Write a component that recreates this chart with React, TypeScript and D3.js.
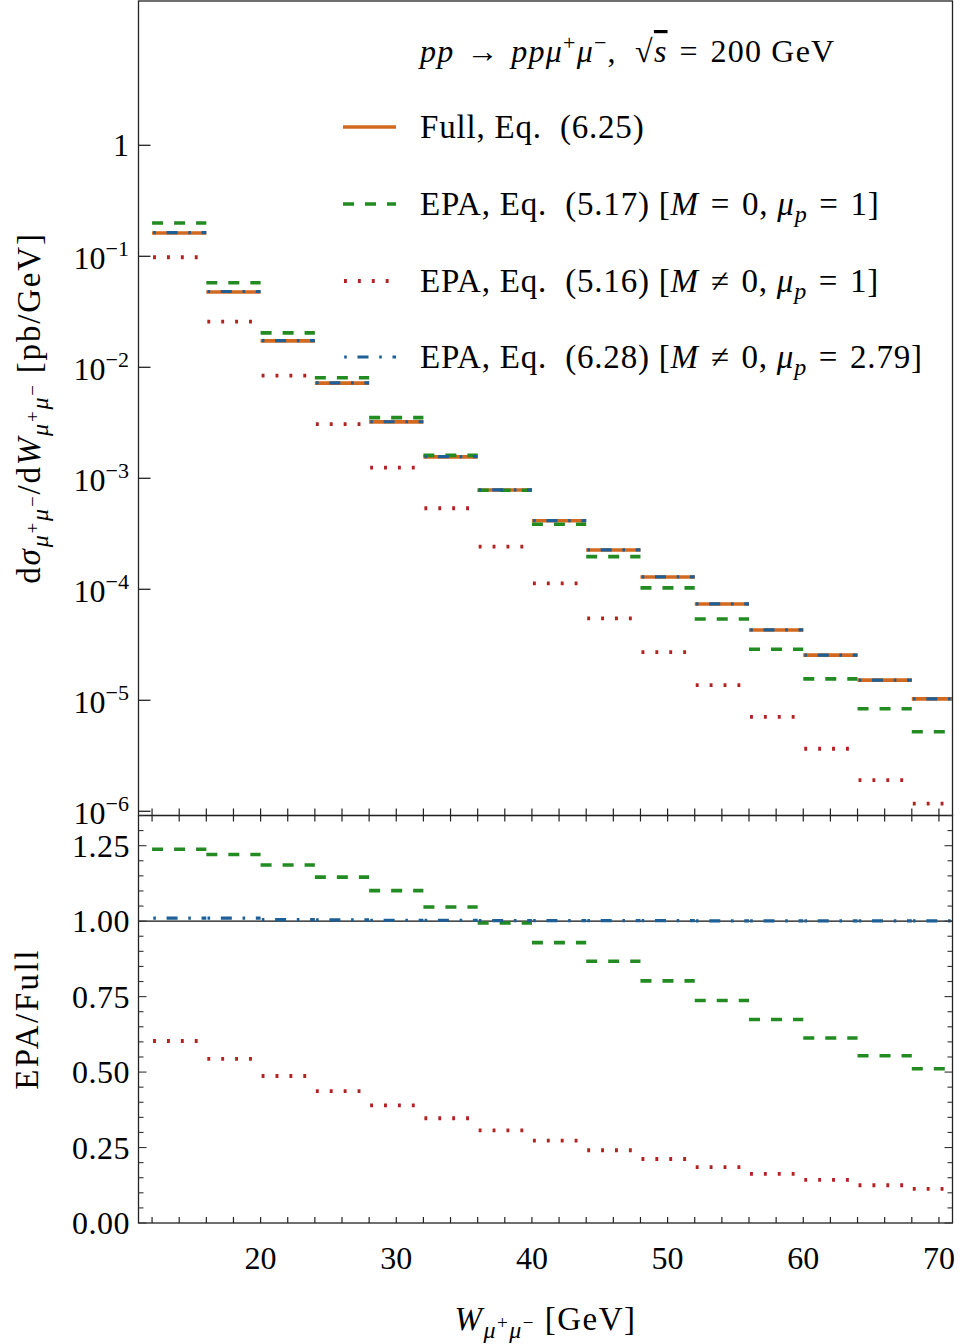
import React from "react";
import * as d3 from "d3";

// bin edges in GeV (4 GeV bins, last one cut by the axis at 71)
const binEdges = [12, 16, 20, 24, 28, 32, 36, 40, 44, 48, 52, 56, 60, 64, 68, 72];

// d sigma / dW [pb/GeV]
const full = [0.162, 0.0477, 0.0173, 0.00720, 0.00322, 0.00156, 7.85e-4, 4.14e-4, 2.26e-4, 1.29e-4, 7.38e-5, 4.3e-5, 2.55e-5, 1.52e-5, 1.03e-5];
const epaM0 = [0.1995, 0.0578, 0.0204, 0.00806, 0.00352, 0.00161, 7.8e-4, 3.86e-4, 1.97e-4, 1.03e-4, 5.4e-5, 2.88e-5, 1.56e-5, 8.4e-6, 5.2e-6];
const epaM = [0.098, 0.0258, 0.0084, 0.00308, 0.00125, 5.37e-4, 2.42e-4, 1.13e-4, 5.48e-5, 2.72e-5, 1.37e-5, 7.08e-6, 3.66e-6, 1.91e-6, 1.17e-6];
const epaMu = [0.1636, 0.0482, 0.0174, 0.00723, 0.00323, 0.001565, 7.87e-4, 4.15e-4, 2.265e-4, 1.293e-4, 7.39e-5, 4.3e-5, 2.55e-5, 1.52e-5, 1.03e-5];

// EPA / Full
const ratioM0 = [1.238, 1.221, 1.186, 1.146, 1.101, 1.047, 0.994, 0.929, 0.867, 0.802, 0.737, 0.674, 0.613, 0.554, 0.511];
const ratioM = [0.603, 0.544, 0.487, 0.437, 0.39, 0.347, 0.307, 0.273, 0.241, 0.212, 0.185, 0.163, 0.143, 0.125, 0.113];
const ratioMu = [1.01, 1.01, 1.005, 1.004, 1.003, 1.003, 1.002, 1.002, 1.002, 1.002, 1.001, 1.001, 1.001, 1.001, 1.001];

const xTicks = [20, 30, 40, 50, 60, 70];
const logTicks = [0, -1, -2, -3, -4, -5, -6];
const ratioTicks = [0, 0.25, 0.5, 0.75, 1.0, 1.25];

const FONT = "'Liberation Serif', 'DejaVu Serif', serif";
const C_FULL = "#d2691e";
const C_M0 = "#228b22";
const C_M = "#b22222";
const C_MU = "#1d5f97";
const SP = "\u2004"; // a bit wider than a normal space, like TeX math spacing

const styles = {
  full: { stroke: C_FULL, width: 3.6, dash: "none", offset: 0 },
  m0: { stroke: C_M0, width: 3.6, dash: "11 11", offset: 0 },
  m: { stroke: C_M, width: 3.8, dash: "2.9 11", offset: -1 },
  mu: { stroke: C_MU, width: 3.2, dash: "11 10.7 2.6 10.7", offset: 20.5 },
};

type Piece = { t: string; off?: number; size?: number; it?: boolean; deco?: string };

// text with sub/superscripts; off is the shift from the baseline (positive = down)
const Rich = ({ pieces, size, ...rest }: { pieces: Piece[]; size: number; [k: string]: any }) => {
  let prev = 0;
  return (
    <text fontFamily={FONT} fontSize={size} xmlSpace="preserve" {...rest}>
      {pieces.map((p, i) => {
        const off = p.off || 0;
        const dy = off - prev;
        prev = off;
        return (
          <tspan key={i} dy={dy} fontSize={p.size || size} fontStyle={p.it ? "italic" : "normal"} textDecoration={p.deco}>
            {p.t}
          </tspan>
        );
      })}
    </text>
  );
};

const muSub: Piece[] = [
  { t: "μ", off: 8, size: 24, it: true },
  { t: "+", off: -1, size: 19 },
  { t: "μ", off: 8, size: 24, it: true },
  { t: "−", off: -1, size: 19 },
];

export default function App() {
  const left = 138.5, right = 952.5;
  const topY0 = 1, topY1 = 815.5, botY1 = 1223;

  const x = d3.scaleLinear().domain([11, 71]).range([left, right]);
  const yTop = d3.scaleLog().domain([Math.pow(10, -6.038), Math.pow(10, 1.3)]).range([topY1, topY0]);
  const yBot = d3.scaleLinear().domain([0, 1.35]).range([botY1, topY1]);

  const minorX = d3.range(12, 71, 2);
  const minorR = d3.range(0, 1.351, 0.05);

  const steps = (vals: number[], y: any, st: any, key: string) =>
    vals.map((v, i) => (
      <line
        key={key + i}
        x1={x(binEdges[i])}
        x2={x(binEdges[i + 1])}
        y1={y(v)}
        y2={y(v)}
        stroke={st.stroke}
        strokeWidth={st.width}
        strokeDasharray={st.dash}
        strokeDashoffset={st.offset}
        strokeLinecap="butt"
      />
    ));

  const legendRows = [
    { st: styles.full, y: 127, pieces: [{ t: "Full, Eq.  (6.25)" }] },
    {
      st: styles.m0, y: 204,
      pieces: [{ t: "EPA, Eq.  (5.17) [" }, { t: "M", it: true }, { t: SP + "=" + SP + "0, " }, { t: "μ", it: true }, { t: "p", it: true, off: 7, size: 24 }, { t: SP + "=" + SP + "1]", off: 0 }],
    },
    {
      st: styles.m, y: 281,
      pieces: [{ t: "EPA, Eq.  (5.16) [" }, { t: "M", it: true }, { t: SP + "≠" + SP + "0, " }, { t: "μ", it: true }, { t: "p", it: true, off: 7, size: 24 }, { t: SP + "=" + SP + "1]", off: 0 }],
    },
    {
      st: styles.mu, y: 357,
      pieces: [{ t: "EPA, Eq.  (6.28) [" }, { t: "M", it: true }, { t: SP + "≠" + SP + "0, " }, { t: "μ", it: true }, { t: "p", it: true, off: 7, size: 24 }, { t: SP + "=" + SP + "2.79]", off: 0 }],
    },
  ];

  return (
    <svg width={964} height={1344} style={{ position: "absolute", left: 0, top: 0, background: "white" }}>
      <defs>
        <clipPath id="clipTop">
          <rect x={left} y={topY0} width={right - left} height={topY1 - topY0} />
        </clipPath>
        <clipPath id="clipBot">
          <rect x={left} y={topY1} width={right - left} height={botY1 - topY1} />
        </clipPath>
      </defs>

      {/* upper panel */}
      <g clipPath="url(#clipTop)">
        {steps(full, yTop, styles.full, "f")}
        {steps(epaM0, yTop, styles.m0, "g")}
        {steps(epaM, yTop, styles.m, "r")}
        {steps(epaMu, yTop, styles.mu, "b")}
      </g>
      <rect x={left} y={topY0} width={right - left} height={topY1 - topY0} fill="none" stroke="#222" strokeWidth={1.3} />
      {logTicks.map((e) => (
        <g key={"lt" + e}>
          <line x1={left} x2={left + 12} y1={yTop(Math.pow(10, e))} y2={yTop(Math.pow(10, e))} stroke="#222" strokeWidth={1.3} />
          {e === 0 ? (
            <text x={129} y={yTop(1) + 11} textAnchor="end" fontFamily={FONT} fontSize={32}>1</text>
          ) : (
            <text x={129} y={yTop(Math.pow(10, e)) + 13} textAnchor="end" fontFamily={FONT} fontSize={32}>
              10<tspan dy={-13} fontSize={22}>{"−" + -e}</tspan>
            </text>
          )}
        </g>
      ))}
      {minorX.map((v) => (
        <g key={"tx" + v}>
          <line x1={x(v)} x2={x(v)} y1={topY1 - 7} y2={topY1 + 6} stroke="#222" strokeWidth={1.2} />
          <line x1={x(v)} x2={x(v)} y1={botY1 - 6} y2={botY1} stroke="#222" strokeWidth={1.2} />
        </g>
      ))}

      {/* lower panel */}
      <g clipPath="url(#clipBot)">
        <line x1={left} x2={right} y1={yBot(1)} y2={yBot(1)} stroke="#111" strokeWidth={1.4} />
        {steps(ratioM0, yBot, styles.m0, "rg")}
        {steps(ratioM, yBot, styles.m, "rr")}
        {steps(ratioMu, yBot, styles.mu, "rb")}
      </g>
      <rect x={left} y={topY1} width={right - left} height={botY1 - topY1} fill="none" stroke="#222" strokeWidth={1.3} />
      {minorR.map((v, i) => {
        const major = i % 5 === 0;
        const len = major ? 8 : 5;
        return (
          <g key={"rt" + i}>
            <line x1={left} x2={left + len} y1={yBot(v)} y2={yBot(v)} stroke="#333" strokeWidth={1.1} />
            <line x1={right - len} x2={right} y1={yBot(v)} y2={yBot(v)} stroke="#333" strokeWidth={1.1} />
          </g>
        );
      })}
      {ratioTicks.map((v) => (
        <text key={"rl" + v} x={130} y={yBot(v) + 11} textAnchor="end" fontFamily={FONT} fontSize={32} letterSpacing={0.5}>
          {d3.format(".2f")(v)}
        </text>
      ))}
      {xTicks.map((v) => (
        <text key={"xl" + v} x={x(v)} y={1269} textAnchor="middle" fontFamily={FONT} fontSize={32}>
          {v}
        </text>
      ))}

      {/* axis titles */}
      <Rich
        size={33}
        x={545.5}
        y={1330}
        textAnchor="middle"
        letterSpacing={1.5}
        pieces={[{ t: "W", it: true }, ...muSub, { t: " [GeV]", off: 0 }]}
      />
      <Rich
        size={33}
        x={0}
        y={0}
        textAnchor="middle"
        letterSpacing={1.8}
        transform="translate(40,408) rotate(-90)"
        pieces={[{ t: "d" }, { t: "σ", it: true }, ...muSub, { t: "/d", off: 0 }, { t: "W", it: true }, ...muSub, { t: " [pb/GeV]", off: 0 }]}
      />
      <Rich size={33} x={0} y={0} textAnchor="middle" letterSpacing={2.5} transform="translate(38,1019) rotate(-90)" pieces={[{ t: "EPA/Full" }]} />

      {/* legend */}
      <Rich
        size={32}
        x={420}
        y={62}
        letterSpacing={1.2}
        pieces={[
          { t: "pp", it: true },
          { t: SP + "→" + SP },
          { t: "ppμ", it: true },
          { t: "+", off: -12, size: 22 },
          { t: "μ", it: true, off: 0 },
          { t: "−", off: -12, size: 22 },
          { t: ",  √", off: 0 },
          { t: "s", it: true, deco: "overline" },
          { t: SP + "=" + SP + "200 GeV" },
        ]}
      />
      {legendRows.map((r, i) => (
        <g key={"lg" + i}>
          <line x1={343} x2={396} y1={r.y} y2={r.y} stroke={r.st.stroke} strokeWidth={r.st.width} strokeDasharray={r.st.dash} strokeDashoffset={r.st.offset} />
          <Rich size={33} x={420} y={r.y + 11} letterSpacing={0.8} pieces={r.pieces} />
        </g>
      ))}
    </svg>
  );
}
